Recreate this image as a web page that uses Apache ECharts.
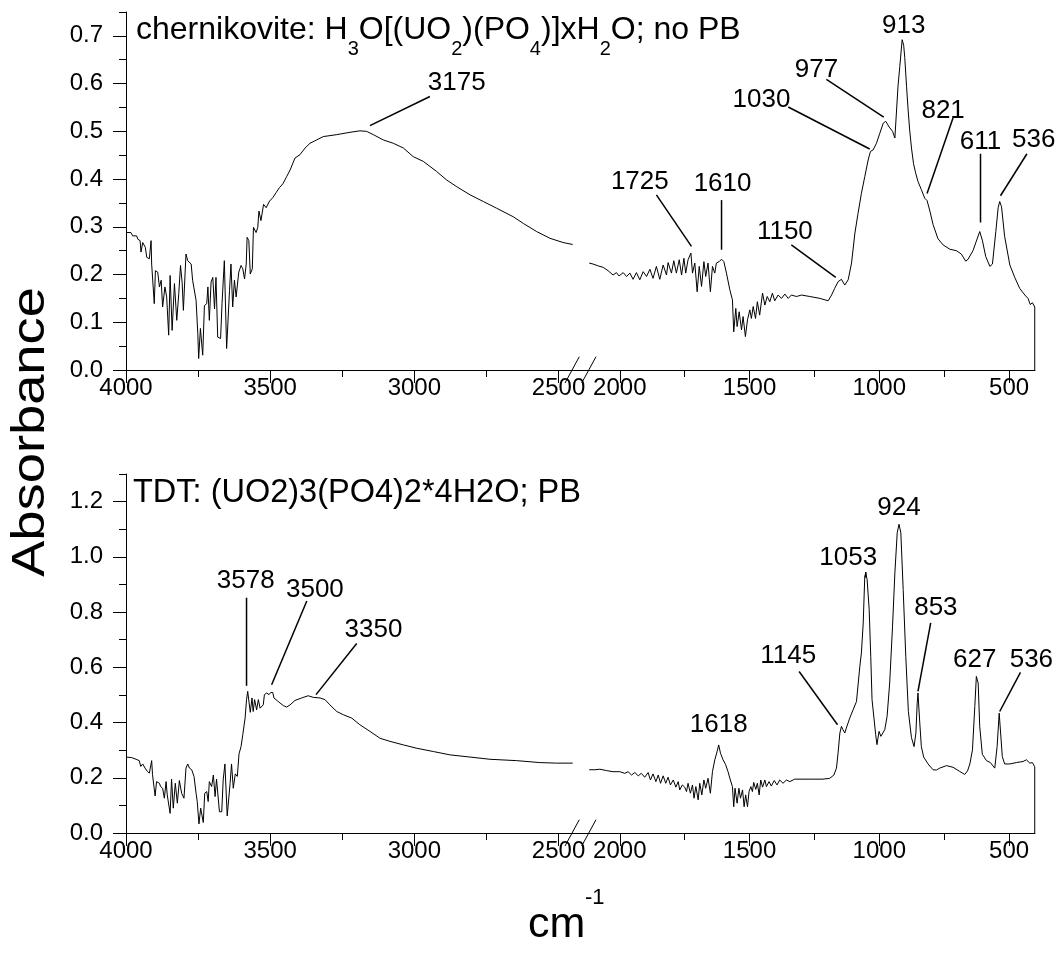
<!DOCTYPE html>
<html><head><meta charset="utf-8">
<script src="https://cdn.jsdelivr.net/npm/echarts@6/dist/echarts.min.js"></script>
<style>html,body{margin:0;padding:0;background:#fff}#c{width:1060px;height:957px}</style>
</head><body><div id="c"></div>
<script>
// ---------- tick values ----------
const xTicksLeft = [4000, 3500, 3000, 2500];
const xMinorLeft = [3750, 3250, 2750];
const xTicksRight = [2000, 1500, 1000, 500];
const xMinorRight = [1750, 1250, 750];
const yTicksTop = [0, 0.1, 0.2, 0.3, 0.4, 0.5, 0.6, 0.7];
const yMinorTop = [0.05, 0.15, 0.25, 0.35, 0.45, 0.55, 0.65, 0.75];
const yTicksBottom = [0, 0.2, 0.4, 0.6, 0.8, 1.0, 1.2];
const yMinorBottom = [0.1, 0.3, 0.5, 0.7, 0.9, 1.1, 1.3];

// ---------- spectra: [wavenumber, absorbance] ----------
const chernLeft = [[4000,0.288],[3983,0.288],[3977,0.281],[3963,0.281],[3959,0.274],[3951,0.271],[3948,0.247],[3942,0.267],[3933,0.257],[3928,0.236],[3919,0.233],[3913,0.271],[3911,0.222],[3902,0.139],[3898,0.208],[3890,0.205],[3884,0.174],[3878,0.188],[3873,0.132],[3865,0.174],[3859,0.153],[3852,0.073],[3847,0.198],[3840,0.083],[3832,0.181],[3824,0.104],[3817,0.160],[3811,0.219],[3805,0.181],[3801,0.125],[3792,0.243],[3786,0.229],[3780,0.226],[3774,0.222],[3769,0.188],[3763,0.188],[3757,0.146],[3751,0.076],[3748,0.024],[3742,0.087],[3734,0.031],[3728,0.135],[3720,0.139],[3716,0.174],[3711,0.104],[3705,0.184],[3699,0.194],[3693,0.128],[3688,0.194],[3682,0.069],[3672,0.066],[3667,0.139],[3659,0.229],[3651,0.045],[3641,0.167],[3636,0.222],[3630,0.132],[3624,0.188],[3618,0.153],[3612,0.153],[3609,0.205],[3601,0.219],[3595,0.212],[3589,0.191],[3583,0.222],[3580,0.278],[3574,0.271],[3569,0.201],[3562,0.212],[3558,0.299],[3549,0.288],[3543,0.299],[3539,0.333],[3532,0.313],[3523,0.347],[3514,0.340],[3509,0.337],[3502,0.354],[3491,0.361],[3479,0.372],[3468,0.382],[3456,0.390],[3443,0.405],[3431,0.419],[3414,0.444],[3397,0.451],[3379,0.465],[3362,0.475],[3339,0.482],[3316,0.489],[3270,0.493],[3223,0.498],[3189,0.501],[3166,0.500],[3142,0.493],[3108,0.482],[3073,0.475],[3038,0.465],[3004,0.447],[2969,0.437],[2923,0.416],[2888,0.398],[2853,0.384],[2807,0.367],[2761,0.353],[2715,0.339],[2657,0.321],[2622,0.307],[2576,0.290],[2530,0.276],[2484,0.267],[2451,0.263]];

const chernRight = [[2118,0.224],[2103,0.222],[2083,0.218],[2064,0.215],[2045,0.208],[2026,0.199],[2013,0.204],[2003,0.197],[1987,0.204],[1974,0.196],[1961,0.203],[1949,0.190],[1936,0.204],[1923,0.189],[1910,0.206],[1897,0.196],[1884,0.211],[1872,0.192],[1859,0.217],[1846,0.190],[1833,0.220],[1820,0.199],[1814,0.225],[1801,0.203],[1792,0.229],[1782,0.203],[1771,0.231],[1762,0.199],[1753,0.234],[1746,0.203],[1737,0.231],[1726,0.245],[1720,0.203],[1711,0.224],[1702,0.164],[1694,0.217],[1685,0.175],[1676,0.227],[1669,0.196],[1660,0.224],[1651,0.164],[1643,0.217],[1634,0.203],[1628,0.224],[1617,0.227],[1608,0.232],[1599,0.227],[1589,0.203],[1576,0.168],[1566,0.147],[1561,0.080],[1553,0.129],[1548,0.091],[1540,0.122],[1531,0.084],[1525,0.112],[1516,0.070],[1508,0.105],[1499,0.126],[1493,0.108],[1486,0.133],[1477,0.108],[1470,0.143],[1461,0.115],[1450,0.161],[1441,0.136],[1432,0.154],[1422,0.143],[1412,0.161],[1403,0.145],[1390,0.157],[1377,0.150],[1364,0.159],[1351,0.150],[1339,0.157],[1319,0.154],[1300,0.157],[1268,0.154],[1229,0.150],[1197,0.145],[1184,0.157],[1172,0.171],[1159,0.185],[1146,0.190],[1133,0.178],[1120,0.189],[1107,0.224],[1094,0.287],[1082,0.328],[1069,0.370],[1056,0.405],[1043,0.440],[1034,0.458],[1024,0.461],[1011,0.475],[998,0.496],[985,0.517],[975,0.521],[962,0.509],[949,0.500],[940,0.486],[928,0.594],[921,0.636],[912,0.692],[906,0.680],[902,0.655],[895,0.594],[889,0.545],[883,0.503],[876,0.465],[868,0.432],[860,0.413],[851,0.395],[838,0.378],[825,0.360],[816,0.355],[806,0.335],[793,0.305],[774,0.275],[754,0.262],[728,0.253],[703,0.250],[684,0.243],[667,0.228],[658,0.232],[651,0.235],[639,0.250],[626,0.270],[613,0.290],[603,0.272],[590,0.238],[574,0.217],[564,0.222],[551,0.290],[542,0.340],[536,0.353],[529,0.342],[517,0.280],[497,0.220],[478,0.194],[459,0.171],[439,0.157],[427,0.150],[418,0.137],[410,0.141],[401,0.132],[401,0]];

const tdtLeft = [[4000,0.275],[3980,0.273],[3965,0.267],[3954,0.262],[3949,0.241],[3942,0.250],[3934,0.235],[3926,0.223],[3919,0.217],[3911,0.262],[3908,0.211],[3899,0.134],[3894,0.186],[3884,0.180],[3880,0.168],[3873,0.162],[3867,0.126],[3861,0.186],[3857,0.138],[3847,0.071],[3842,0.195],[3836,0.090],[3829,0.180],[3822,0.108],[3815,0.190],[3807,0.144],[3799,0.126],[3792,0.235],[3786,0.250],[3780,0.235],[3772,0.229],[3764,0.204],[3757,0.144],[3753,0.114],[3747,0.033],[3741,0.090],[3732,0.038],[3727,0.144],[3720,0.150],[3715,0.114],[3711,0.186],[3703,0.168],[3697,0.210],[3691,0.132],[3686,0.195],[3676,0.077],[3668,0.077],[3663,0.192],[3657,0.250],[3649,0.062],[3639,0.180],[3634,0.250],[3628,0.162],[3621,0.214],[3614,0.205],[3608,0.287],[3601,0.313],[3595,0.356],[3587,0.416],[3582,0.483],[3578,0.513],[3573,0.507],[3569,0.437],[3563,0.489],[3559,0.440],[3554,0.483],[3547,0.446],[3541,0.483],[3535,0.452],[3530,0.458],[3524,0.464],[3520,0.501],[3512,0.507],[3504,0.501],[3498,0.509],[3491,0.509],[3487,0.489],[3472,0.476],[3454,0.461],[3443,0.456],[3431,0.464],[3414,0.480],[3391,0.489],[3368,0.497],[3350,0.491],[3327,0.489],[3310,0.483],[3293,0.464],[3269,0.440],[3246,0.428],[3217,0.416],[3189,0.392],[3154,0.368],[3119,0.343],[3085,0.332],[3038,0.319],[2992,0.307],[2934,0.295],[2877,0.283],[2807,0.275],[2738,0.267],[2645,0.262],[2565,0.255],[2507,0.253],[2451,0.253]];

const tdtRight = [[2118,0.229],[2096,0.229],[2077,0.231],[2051,0.226],[2026,0.222],[2000,0.222],[1981,0.216],[1968,0.222],[1955,0.210],[1942,0.219],[1929,0.207],[1917,0.216],[1904,0.202],[1891,0.219],[1882,0.192],[1872,0.214],[1861,0.186],[1852,0.210],[1843,0.180],[1833,0.207],[1823,0.180],[1814,0.202],[1805,0.174],[1794,0.192],[1784,0.166],[1775,0.186],[1769,0.156],[1759,0.174],[1750,0.166],[1743,0.150],[1737,0.180],[1728,0.144],[1720,0.174],[1714,0.126],[1707,0.168],[1698,0.120],[1692,0.180],[1684,0.138],[1676,0.192],[1669,0.162],[1660,0.198],[1651,0.144],[1643,0.222],[1634,0.265],[1625,0.295],[1619,0.319],[1612,0.289],[1602,0.265],[1592,0.247],[1583,0.222],[1574,0.192],[1566,0.168],[1561,0.095],[1556,0.162],[1548,0.108],[1541,0.162],[1535,0.126],[1527,0.156],[1521,0.095],[1515,0.138],[1508,0.095],[1502,0.150],[1495,0.168],[1489,0.150],[1484,0.183],[1476,0.158],[1470,0.180],[1463,0.138],[1457,0.192],[1450,0.166],[1441,0.192],[1435,0.168],[1425,0.186],[1416,0.170],[1405,0.190],[1394,0.174],[1384,0.192],[1371,0.180],[1358,0.192],[1345,0.186],[1326,0.195],[1294,0.195],[1255,0.195],[1217,0.195],[1191,0.198],[1175,0.210],[1165,0.235],[1159,0.289],[1152,0.362],[1146,0.386],[1140,0.374],[1133,0.362],[1127,0.380],[1114,0.416],[1101,0.446],[1088,0.476],[1075,0.604],[1069,0.652],[1062,0.760],[1056,0.930],[1052,0.940],[1047,0.918],[1039,0.809],[1033,0.640],[1028,0.483],[1021,0.420],[1014,0.356],[1009,0.320],[1001,0.368],[994,0.350],[988,0.344],[979,0.374],[970,0.422],[960,0.543],[949,0.749],[940,0.942],[931,1.087],[924,1.118],[917,1.087],[908,0.882],[898,0.640],[888,0.440],[876,0.345],[866,0.313],[859,0.362],[854,0.470],[851,0.507],[844,0.398],[838,0.313],[829,0.275],[812,0.250],[793,0.229],[780,0.228],[767,0.235],[741,0.244],[716,0.238],[690,0.223],[671,0.212],[660,0.225],[651,0.250],[641,0.301],[632,0.458],[626,0.567],[619,0.543],[613,0.386],[603,0.285],[587,0.262],[572,0.255],[555,0.235],[546,0.313],[538,0.434],[533,0.428],[526,0.277],[517,0.250],[497,0.250],[472,0.255],[446,0.259],[433,0.265],[420,0.253],[410,0.255],[401,0.240],[401,0]];

// ---------- peak annotations (data coords): label centre, leader start, leader end ----------
const chernLeftPeaks = ['3175'];
const chernLeftAnn = [[2853,0.601, 2946,0.573, 3154,0.512]];
const chernRightPeaks = ['1725','1610','1150','1030','977','913','821','611','536'];
const chernRightAnn = [
  [1923,0.395, 1859,0.367, 1724,0.259],
  [1604,0.391, 1608,0.356, 1608,0.252],
  [1364,0.290, 1339,0.262, 1168,0.194],
  [1454,0.566, 1351,0.551, 1037,0.463],
  [1242,0.629, 1204,0.609, 983,0.530],
  [906,0.722, 906,0.722, 906,0.722],
  [754,0.542, 716,0.528, 816,0.370],
  [610,0.479, 610,0.453, 610,0.309],
  [405,0.482, 431,0.453, 533,0.365]
];
const tdtLeftPeaks = ['3578','3500','3350'];
const tdtLeftAnn = [
  [3585,0.912, 3582,0.852, 3582,0.533],
  [3345,0.882, 3373,0.840, 3495,0.537],
  [3142,0.737, 3200,0.686, 3341,0.501]
];
const tdtRightPeaks = ['1618','1145','1053','924','853','627','536'];
const tdtRightAnn = [
  [1619,0.392, 1619,0.392, 1619,0.392],
  [1351,0.642, 1309,0.585, 1161,0.392],
  [1120,0.997, 1052,0.945, 1053,0.925],
  [924,1.178, 924,1.178, 924,1.178],
  [782,0.815, 802,0.761, 851,0.513],
  [632,0.628, 632,0.628, 632,0.628],
  [414,0.628, 456,0.582, 536,0.440]
];

const FONT = "'Liberation Sans', Arial, sans-serif";

function xPair(grid, min, max, major, minor) {
  return [{
    type: 'value', gridIndex: grid, min: min, max: max, inverse: true, position: 'bottom',
    axisLine: { show: true, onZero: false, lineStyle: { color: '#000', width: 1 } },
    axisTick: { show: true, customValues: major, length: 13, lineStyle: { color: '#000', width: 1 } },
    axisLabel: { show: true, customValues: major, margin: 6, color: '#000', fontSize: 24, fontFamily: FONT,
      formatter: v => String(Math.round(v)) },
    splitLine: { show: false }
  }, {
    type: 'value', gridIndex: grid, min: min, max: max, inverse: true, position: 'bottom',
    axisLine: { show: false },
    axisTick: { show: true, customValues: minor, length: 7, lineStyle: { color: '#000', width: 1 } },
    axisLabel: { show: false },
    splitLine: { show: false }
  }];
}
function yPair(grid, max, major, minor) {
  return [{
    type: 'value', gridIndex: grid, min: 0, max: max, position: 'left',
    axisLine: { show: true, onZero: false, lineStyle: { color: '#000', width: 1 } },
    axisTick: { show: true, customValues: major, length: 13, lineStyle: { color: '#000', width: 1 } },
    axisLabel: { show: true, customValues: major, margin: 23, color: '#000', fontSize: 24, fontFamily: FONT,
      formatter: v => Number(v).toFixed(1) },
    splitLine: { show: false }
  }, {
    type: 'value', gridIndex: grid, min: 0, max: max, position: 'left',
    axisLine: { show: false },
    axisTick: { show: true, customValues: minor, length: 7, lineStyle: { color: '#000', width: 1 } },
    axisLabel: { show: false },
    splitLine: { show: false }
  }];
}
function yHidden(grid, max) {
  return { type: 'value', gridIndex: grid, min: 0, max: max, show: false };
}

const LMIN = 2436, LMAX = 4000, RMIN = 400, RMAX = 2165;

const xAxes = [].concat(
  xPair(0, LMIN, LMAX, xTicksLeft, xMinorLeft),
  xPair(1, RMIN, RMAX, xTicksRight, xMinorRight),
  xPair(2, LMIN, LMAX, xTicksLeft, xMinorLeft),
  xPair(3, RMIN, RMAX, xTicksRight, xMinorRight)
);
const yAxes = [].concat(
  yPair(0, 0.75, yTicksTop, yMinorTop),
  [yHidden(1, 0.75)],
  yPair(2, 1.3, yTicksBottom, yMinorBottom),
  [yHidden(3, 1.3)]
);

function spectrum(data, xi, yi) {
  return { type: 'line', xAxisIndex: xi, yAxisIndex: yi, data: data, symbol: 'none', showSymbol: false,
    lineStyle: { color: '#000', width: 1 }, silent: true, animation: false };
}
function annotations(names, ann, xi, yi) {
  return {
    type: 'custom', xAxisIndex: xi, yAxisIndex: yi, clip: false, silent: true, animation: false,
    data: ann,
    renderItem: function (params, api) {
      const i = params.dataIndex;
      const c = api.coord([api.value(0), api.value(1)]);
      const children = [{
        type: 'text', x: c[0], y: c[1],
        style: { text: names[i], fontSize: 26, fontFamily: FONT, fill: '#000', align: 'center', verticalAlign: 'middle' }
      }];
      const sx = api.value(2), sy = api.value(3), ex = api.value(4), ey = api.value(5);
      if (!(sx === ex && sy === ey)) {
        const p1 = api.coord([sx, sy]), p2 = api.coord([ex, ey]);
        children.push({ type: 'line', shape: { x1: p1[0], y1: p1[1], x2: p2[0], y2: p2[1] },
          style: { stroke: '#000', lineWidth: 1.5 } });
      }
      return { type: 'group', children: children };
    }
  };
}

const chart = echarts.init(document.getElementById('c'), null, { renderer: 'canvas' });
chart.setOption({
  animation: false,
  backgroundColor: '#fff',
  grid: [
    { left: 126, top: 12, width: 451, height: 358 },
    { left: 577, top: 12, width: 458, height: 358 },
    { left: 126, top: 474, width: 451, height: 359 },
    { left: 577, top: 474, width: 458, height: 359 }
  ],
  xAxis: xAxes,
  yAxis: yAxes,
  series: [
    spectrum(chernLeft, 0, 0),
    spectrum(chernRight, 2, 2),
    spectrum(tdtLeft, 4, 3),
    spectrum(tdtRight, 6, 5),
    annotations(chernLeftPeaks, chernLeftAnn, 0, 0),
    annotations(chernRightPeaks, chernRightAnn, 2, 2),
    annotations(tdtLeftPeaks, tdtLeftAnn, 4, 3),
    annotations(tdtRightPeaks, tdtRightAnn, 6, 5)
  ],
  graphic: [
    { type: 'text', left: 136, top: 14, style: {
      text: '{a|chernikovite: H}{s|3}{a|O[(UO}{s|2}{a|)(PO}{s|4}{a|)]xH}{s|2}{a|O; no PB}',
      rich: {
        a: { fontSize: 32, fontFamily: FONT, fill: '#000', lineHeight: 36, verticalAlign: 'top' },
        s: { fontSize: 20, fontFamily: FONT, fill: '#000', lineHeight: 20, padding: [25, 0, 0, 0], verticalAlign: 'top' }
      } } },
    { type: 'text', left: 133, top: 477, style: { text: 'TDT: (UO2)3(PO4)2*4H2O; PB', fontSize: 32.5, fontFamily: FONT, fill: '#000' } },
    { type: 'text', x: 31, y: 432, rotation: Math.PI / 2, scaleX: 1.18, style: { text: 'Absorbance', fontSize: 46, fontFamily: FONT, fill: '#000', align: 'center', verticalAlign: 'middle' } },
    { type: 'text', x: 528, y: 925, style: { text: 'cm', fontSize: 43, fontFamily: FONT, fill: '#000', align: 'left', verticalAlign: 'middle' } },
    { type: 'text', x: 585, y: 898, style: { text: '-1', fontSize: 22, fontFamily: FONT, fill: '#000', align: 'left', verticalAlign: 'middle' } },
    { type: 'line', shape: { x1: 565, y1: 383, x2: 579.3, y2: 356.7 }, style: { stroke: '#000', lineWidth: 1 } },
    { type: 'line', shape: { x1: 581.7, y1: 383, x2: 596, y2: 356.7 }, style: { stroke: '#000', lineWidth: 1 } },
    { type: 'line', shape: { x1: 565, y1: 846, x2: 579.3, y2: 819.7 }, style: { stroke: '#000', lineWidth: 1 } },
    { type: 'line', shape: { x1: 581.7, y1: 846, x2: 596, y2: 819.7 }, style: { stroke: '#000', lineWidth: 1 } }
  ]
});
</script>
</body></html>
